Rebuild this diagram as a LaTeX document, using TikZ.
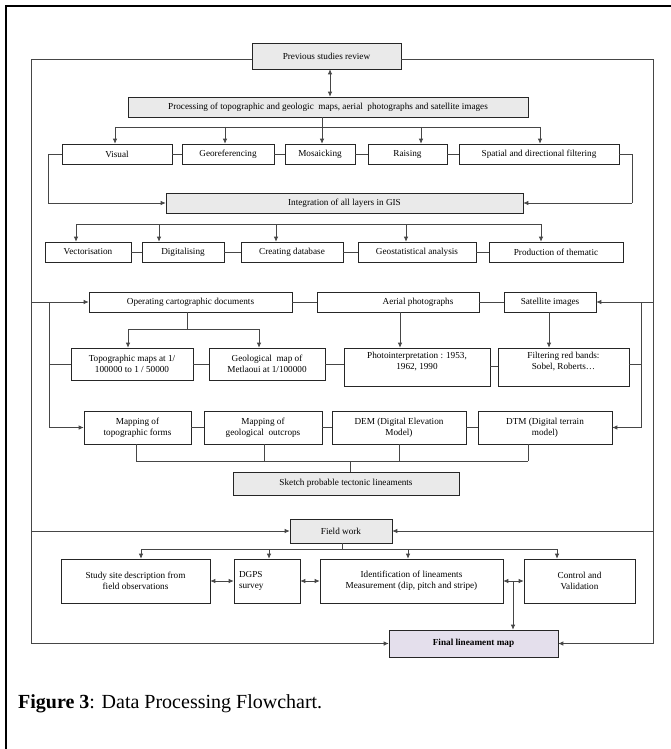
\documentclass[tikz,border=0pt]{standalone}
\usepackage{fontspec}
\setmainfont{Liberation Serif}
\usetikzlibrary{arrows.meta}
\definecolor{gfill}{RGB}{234,234,234}
\definecolor{lav}{RGB}{228,223,236}
\definecolor{lnc}{RGB}{70,70,70}
\newcommand{\bx}[7]{\node[#6, minimum width={(#4-#2)*1pt}, minimum height={(#5-#3)*1pt}] (#1) at ({(#2+#4)/2},{(#3+#5)/2}) {#7};}
\tikzset{
  box/.style={draw=black!85, line width=0.6pt, fill=white, align=center, inner sep=1pt,
    font=\fontsize{9.2}{11}\selectfont},
  gbox/.style={box, fill=gfill},
  fbox/.style={box, fill=lav, font=\fontsize{9.2}{11}\selectfont\bfseries},
  ln/.style={draw=lnc, line width=0.7pt},
  arr/.style={ln, -{Latex[length=5pt,width=4.5pt]}},
  darr/.style={ln, {Latex[length=5pt,width=4.5pt]}-{Latex[length=5pt,width=4.5pt]}},
}
\begin{document}
\begin{tikzpicture}[x=1pt,y=-1pt]
\useasboundingbox (0,0) rectangle (671,749);
% outer frame
\draw[line width=1.2pt] (6,749) -- (6,6) -- (671,6);
% nodes
\bx{prev}{252}{43}{401}{69}{gbox}{Previous studies review}
\bx{proc}{128}{97}{528}{117}{gbox}{Processing of topographic and geologic\ \ maps, aerial\ \ photographs and satellite images}
\bx{vis}{62}{144}{172}{164}{box}{Visual}
\bx{geo}{182}{144}{274}{164}{box}{Georeferencing}
\bx{mos}{285}{144}{355}{164}{box}{Mosaicking}
\bx{rai}{368}{144}{447}{164}{box}{Raising}
\bx{spa}{459}{144}{619}{164}{box}{Spatial and directional filtering}
\bx{integ}{166}{193}{523}{213}{gbox}{Integration of all layers in GIS}
\bx{vec}{45}{242}{131}{262}{box}{Vectorisation}
\bx{dig}{142}{242}{224}{262}{box}{Digitalising}
\bx{cdb}{241}{242}{343}{262}{box}{Creating database}
\bx{gsa}{358}{242}{476}{262}{box}{Geostatistical analysis}
\bx{pro}{489}{242}{623}{262}{box}{Production of thematic}
\bx{ocd}{89}{292}{292}{312}{box}{Operating cartographic documents}
\bx{aer}{317}{292}{479}{312}{box}{\hspace*{40pt}Aerial photographs}
\bx{sat}{504}{292}{596}{312}{box}{Satellite images}
\bx{topo}{71}{348}{193}{380}{box}{Topographic maps at 1/\\100000 to 1 / 50000}
\bx{geol}{209}{348}{325}{380}{box}{Geological\ \ map of\\Metlaoui at 1/100000}
\bx{photo}{344}{348}{490}{386}{box}{Photointerpretation : 1953,\\1962, 1990\\[2pt]}
\bx{filt}{498}{348}{629}{386}{box}{Filtering red bands:\\Sobel, Roberts\ldots\\[2pt]}
\bx{mtop}{84}{411}{191}{444}{box}{Mapping of\\topographic forms}
\bx{mgeo}{204}{411}{322}{444}{box}{Mapping of\\geological\ \ outcrops}
\bx{dem}{332}{411}{466}{444}{box}{DEM (Digital Elevation\\Model)}
\bx{dtm}{478}{411}{612}{444}{box}{DTM (Digital terrain\\model)}
\bx{sketch}{233}{472}{459}{495}{gbox}{Sketch probable tectonic lineaments}
\bx{field}{290}{519}{392}{543}{gbox}{Field work}
\bx{study}{61}{559}{210}{603}{box}{Study site description from\\field observations}
\bx{dgps}{234}{559}{300}{603}{box, text width=56pt, align=left}{DGPS\\survey}
\bx{ident}{320}{559}{503}{603}{box}{Identification of lineaments\\Measurement (dip, pitch and stripe)}
\bx{ctrl}{524}{559}{635}{603}{box}{Control and\\Validation}
\bx{final}{389}{630}{558}{657}{fbox}{Final lineament map}
% frame lines
\coordinate (TL) at (31,59);
\coordinate (TR) at (653,59);
\coordinate (BL) at (31,643.5);
\coordinate (BR) at (653,643.5);
\draw[ln] (TL -| prev.west) -- (TL) -- (BL);
\draw[ln] (TR -| prev.east) -- (TR) -- (BR);
\draw[darr] (prev.south -| 330,0) -- (proc.north -| 330,0);
% processing branch
\coordinate (pb) at (322,127);
\draw[ln] (pb |- proc.south) -- (pb);
\draw[ln] (115,127) -- (540,127);
\draw[arr] (115,127) -- (115,127 |- vis.north);
\draw[arr] (225,127) -- (225,127 |- geo.north);
\draw[arr] (pb) -- (pb |- mos.north);
\draw[arr] (421,127) -- (421,127 |- rai.north);
\draw[arr] (540,127) -- (540,127 |- spa.north);
\draw[ln] (vis.east) -- (geo.west);
\draw[ln] (geo.east) -- (mos.west);
\draw[ln] (mos.east) -- (rai.west);
\draw[ln] (rai.east) -- (spa.west);
\coordinate (vl) at (48,203);
\coordinate (vr) at (632,203);
\draw[ln] (vis.west) -- (vis.west -| vl) -- (vl);
\draw[arr] (vl) -- (integ.west);
\draw[ln] (spa.east) -- (spa.east -| vr) -- (vr);
\draw[arr] (vr) -- (integ.east);
% integration branch
\draw[ln] (76,224) -- (541,224);
\draw[arr] (76,224) -- (76,224 |- vec.north);
\draw[arr] (159,224) -- (159,224 |- dig.north);
\draw[arr] (276,224) -- (276,224 |- cdb.north);
\draw[arr] (406,224) -- (406,224 |- gsa.north);
\draw[arr] (541,224) -- (541,224 |- pro.north);
\draw[ln] (vec.east) -- (dig.west);
\draw[ln] (dig.east) -- (cdb.west);
\draw[ln] (cdb.east) -- (gsa.west);
\draw[ln] (gsa.east) -- (pro.west);
% row 3
\coordinate (L3) at (31,302);
\coordinate (R3) at (653,302);
\draw[arr] (L3) -- (ocd.west);
\draw[arr] (R3) -- (sat.east);
\draw[ln] (ocd.east) -- (aer.west);
\draw[ln] (aer.east) -- (sat.west);
\coordinate (lv) at (49,302);
\coordinate (rv) at (641,302);
\draw[ln] (lv) -- (49,427.5);
\draw[ln] (rv) -- (641,427.5);
\draw[ln] (49,364) -- (49,364 -| topo.west);
\draw[ln] (641,364) -- (641,364 -| filt.east);
\draw[arr] (49,427.5) -- (mtop.west);
\draw[arr] (641,427.5) -- (dtm.east);
% row 3 to row 4
\coordinate (ob) at (187,329);
\draw[ln] (ob |- ocd.south) -- (ob);
\draw[ln] (128,329) -- (259,329);
\draw[arr] (128,329) -- (128,329 |- topo.north);
\draw[arr] (259,329) -- (259,329 |- geol.north);
\draw[arr] (400,0 |- aer.south) -- (400,0 |- photo.north);
\draw[arr] (549,0 |- sat.south) -- (549,0 |- filt.north);
\draw[ln] (topo.east) -- (geol.west);
\draw[ln] (geol.east) -- (geol.east -| photo.west);
\draw[ln] (photo.east |- 0,366) -- (filt.west |- 0,366);
% row 5
\draw[ln] (mtop.east) -- (mgeo.west);
\draw[ln] (mgeo.east) -- (dem.west);
\draw[ln] (dem.east) -- (dtm.west);
\draw[ln] (136,0 |- mtop.south) -- (136,461);
\draw[ln] (264,0 |- mgeo.south) -- (264,461);
\draw[ln] (399,0 |- dem.south) -- (399,461);
\draw[ln] (528,0 |- dtm.south) -- (528,461);
\draw[ln] (136,461) -- (528,461);
\draw[ln] (350,461) -- (350,0 |- sketch.north);
% field work
\draw[arr] (31,531) -- (field.west);
\draw[arr] (653,531) -- (field.east);
\coordinate (fb) at (342,549);
\draw[ln] (fb |- field.south) -- (fb);
\draw[ln] (141,549) -- (557,549);
\draw[arr] (141,549) -- (141,549 |- study.north);
\draw[arr] (269,549) -- (269,549 |- dgps.north);
\draw[arr] (408,549) -- (408,549 |- ident.north);
\draw[arr] (557,549) -- (557,549 |- ctrl.north);
\draw[darr] (study.east) -- (dgps.west);
\draw[darr] (dgps.east) -- (ident.west);
\draw[darr] (ident.east) -- (ctrl.west);
\draw[arr] (513,581) -- (513,0 |- final.north);
\draw[arr] (BL) -- (final.west);
\draw[arr] (BR) -- (final.east);
% caption
\node[anchor=base west, inner sep=0pt, font=\fontsize{20}{24}\selectfont] (cap) at (18,708) {\textbf{Figure 3}: Data Processing Flowchart.};
\end{tikzpicture}
\end{document}
